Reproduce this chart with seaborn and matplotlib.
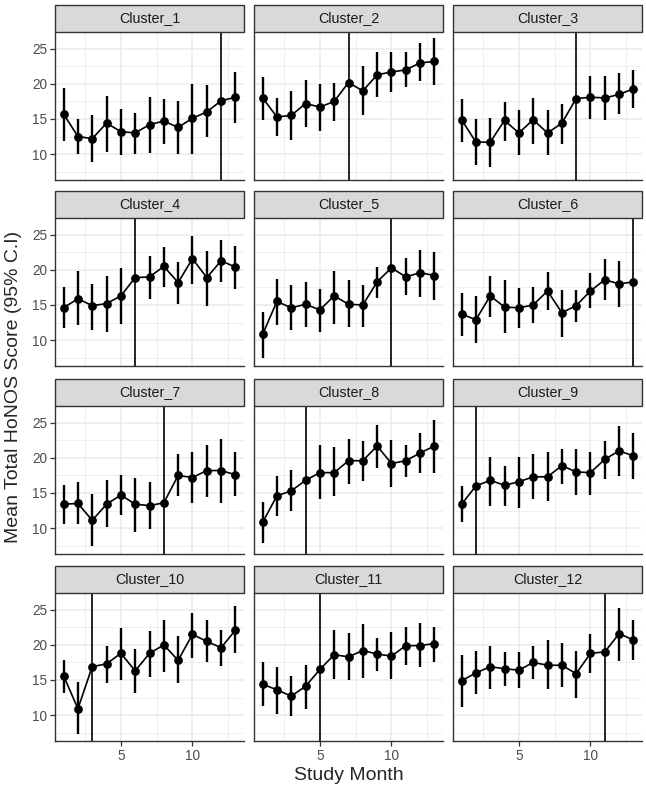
import pandas as pd
import matplotlib
matplotlib.use("Agg")
import matplotlib.pyplot as plt
import seaborn as sns
from matplotlib.patches import Rectangle
from matplotlib.ticker import MultipleLocator

months = list(range(1, 14))
clusters = [f"Cluster_{i}" for i in range(1, 13)]
change_month = [12, 7, 9, 6, 10, 13, 8, 4, 2, 3, 5, 11]

score_mean = [
    [15.7, 12.5, 12.2, 14.4, 13.2, 13.0, 14.2, 14.7, 13.8, 15.1, 16.0, 17.6, 18.1],
    [18.0, 15.3, 15.5, 17.2, 16.7, 17.5, 20.2, 19.0, 21.3, 21.7, 22.0, 23.0, 23.2],
    [14.9, 11.7, 11.7, 14.8, 13.0, 14.9, 13.0, 14.4, 17.9, 18.1, 18.0, 18.5, 19.3],
    [14.6, 15.9, 14.9, 15.2, 16.3, 18.9, 19.0, 20.5, 18.2, 21.6, 18.9, 21.3, 20.4],
    [10.8, 15.5, 14.6, 15.1, 14.3, 16.3, 15.1, 15.0, 18.3, 20.3, 19.0, 19.6, 19.2],
    [13.7, 12.9, 16.3, 14.7, 14.6, 15.0, 17.0, 13.9, 14.9, 17.0, 18.6, 18.0, 18.3],
    [13.4, 13.5, 11.1, 13.4, 14.7, 13.4, 13.2, 13.6, 17.5, 17.2, 18.2, 18.2, 17.6],
    [10.8, 14.6, 15.3, 16.8, 17.9, 17.9, 19.6, 19.6, 21.7, 19.2, 19.6, 20.7, 21.7],
    [13.4, 16.0, 16.8, 16.1, 16.6, 17.3, 17.3, 18.9, 18.0, 17.9, 19.8, 21.0, 20.3],
    [15.6, 10.9, 16.9, 17.3, 18.8, 16.3, 18.8, 20.0, 17.8, 21.5, 20.5, 19.6, 22.1],
    [14.4, 13.6, 12.7, 14.1, 16.5, 18.6, 18.3, 19.2, 18.7, 18.4, 19.9, 19.9, 20.2],
    [14.9, 16.0, 16.9, 16.6, 16.4, 17.5, 17.1, 17.1, 15.9, 18.8, 19.0, 21.6, 20.7],
]
# interval ends; None where the bar sits under the change-month line
score_lo = [
    [11.9, 10.0, 8.9, 10.3, 9.8, 10.0, 10.1, 11.5, 10.0, 10.0, 12.4, None, 14.4],
    [14.9, 12.6, 12.0, 13.9, 13.3, 14.7, None, 15.5, 18.1, 18.8, 19.5, 20.4, 19.9],
    [11.7, 8.5, 8.2, 11.9, 9.8, 11.5, 9.9, 11.4, None, 15.0, 14.9, 15.7, 16.5],
    [11.7, 12.1, 11.5, 11.2, 12.3, None, 15.9, 17.6, 15.2, 18.0, 14.9, 18.3, 17.3],
    [7.5, 12.1, 11.4, 11.9, 11.2, 12.3, 11.8, 11.9, 16.0, None, 16.4, 16.1, 15.7],
    [10.6, 9.6, 13.3, 11.0, 11.7, 12.4, 14.3, 10.5, 12.6, 14.5, 15.7, 14.7, None],
    [10.6, 10.6, 7.4, 10.1, 11.8, 9.5, 9.8, None, 14.6, 13.5, 14.4, 13.5, 14.6],
    [7.9, 11.7, 12.4, None, 14.1, 14.5, 16.3, 16.7, 18.6, 15.8, 17.3, 17.8, 17.9],
    [10.9, None, 13.2, 13.2, 12.8, 14.2, 13.9, 16.3, 14.7, 14.7, 17.0, 17.4, 17.0],
    [13.2, 7.3, None, 14.6, 15.0, 13.1, 15.4, 16.2, 14.5, 18.2, 17.6, 17.0, 18.9],
    [11.3, 10.2, 9.9, 10.9, None, 15.1, 15.0, 15.3, 16.3, 15.1, 17.2, 16.8, 17.5],
    [11.2, 13.0, 13.7, 14.2, 13.8, 15.1, 13.7, 14.0, 12.5, 16.0, None, 17.7, 17.9],
]
score_hi = [
    [19.4, 15.0, 15.5, 18.3, 16.4, 15.9, 18.2, 17.9, 17.5, 20.0, 19.8, None, 21.7],
    [21.0, 18.0, 19.0, 20.5, 20.0, 20.2, None, 22.6, 24.6, 24.5, 24.5, 25.8, 26.5],
    [17.9, 15.0, 15.1, 17.4, 16.3, 18.0, 16.3, 17.1, None, 21.1, 21.1, 21.5, 22.0],
    [17.6, 19.8, 18.0, 19.2, 20.3, None, 22.0, 23.3, 21.1, 24.9, 22.7, 24.2, 23.4],
    [14.0, 18.7, 17.9, 18.3, 17.3, 19.9, 18.5, 17.9, 20.4, None, 21.7, 22.9, 22.6],
    [16.7, 16.3, 19.2, 18.5, 17.4, 17.6, 19.7, 17.2, 17.1, 19.6, 21.6, 21.2, None],
    [16.1, 16.5, 14.9, 16.8, 17.5, 17.1, 16.6, None, 20.5, 20.9, 21.8, 22.7, 20.8],
    [13.7, 17.4, 18.3, None, 21.8, 21.5, 22.7, 22.4, 24.7, 22.6, 21.8, 23.5, 25.4],
    [16.0, None, 20.2, 18.9, 20.1, 20.5, 20.9, 21.3, 21.2, 20.9, 22.4, 24.5, 23.5],
    [17.9, 14.7, None, 19.9, 22.4, 19.4, 22.0, 23.5, 21.2, 24.6, 23.5, 22.1, 25.6],
    [17.5, 16.9, 15.5, 17.1, None, 22.1, 21.7, 23.0, 21.0, 21.8, 22.5, 23.1, 22.6],
    [18.5, 19.1, 19.9, 19.0, 19.0, 19.9, 20.7, 20.3, 19.1, 21.5, None, 25.2, 23.5],
]

rows = []
for i, name in enumerate(clusters):
    for j, m in enumerate(months):
        rows.append({"cluster": name, "month": m, "score": score_mean[i][j],
                     "lo": score_lo[i][j], "hi": score_hi[i][j],
                     "change": change_month[i]})
df = pd.DataFrame(rows)

sns.set_style("white")
plt.rcParams["font.family"] = ["Liberation Sans", "DejaVu Sans"]


def draw(data, **kws):
    ax = plt.gca()
    bars = data.dropna(subset=["lo", "hi"])
    ax.vlines(bars["month"], bars["lo"], bars["hi"], color="black", lw=1.7, zorder=3)
    sns.lineplot(data=data, x="month", y="score", color="black", lw=1.2,
                 marker="o", markersize=6.3, markeredgewidth=0, ax=ax, zorder=4)
    ax.axvline(data["change"].iloc[0], color="black", lw=1.2, zorder=5)


g = sns.FacetGrid(df, col="cluster", col_wrap=3, col_order=clusters,
                  sharex=True, sharey=True, height=2, aspect=1.2)
g.map_dataframe(draw)
fig = g.figure
fig.set_size_inches(6.46, 7.90)

W, H = 646.0, 790.0
col_x = [55, 254, 453]
pw = 189
row_top = [32, 218, 406, 593]
ph = 148
strip_h = 27

for k, ax in enumerate(g.axes.flat):
    r, c = divmod(k, 3)
    ax.set_position([col_x[c] / W, 1 - (row_top[r] + ph) / H, pw / W, ph / H])
    ax.set_xlim(0.4, 13.6)
    ax.set_ylim(6.3, 27.4)
    ax.xaxis.set_minor_locator(MultipleLocator(2.5))
    ax.yaxis.set_minor_locator(MultipleLocator(2.5))
    ax.set_xticks([5, 10])
    ax.set_yticks([10, 15, 20, 25])
    ax.grid(which="major", color="#EBEBEB", lw=1.1, zorder=0)
    ax.grid(which="minor", color="#EBEBEB", lw=0.55, zorder=0)
    ax.set_axisbelow(True)
    for s in ax.spines.values():
        s.set_color("#333333")
        s.set_linewidth(1.0)
    ax.tick_params(which="major", length=3.5, width=0.9, color="#333333",
                   labelsize=9.8, labelcolor="#4D4D4D", pad=2,
                   bottom=(r == 3), left=(c == 0),
                   labelbottom=(r == 3), labelleft=(c == 0))
    ax.tick_params(which="minor", length=0)
    ax.set_title("")
    ax.set_xlabel("")
    ax.set_ylabel("")
    sh = strip_h / ph
    ax.add_patch(Rectangle((0, 1), 1, sh, transform=ax.transAxes,
                           facecolor="#D9D9D9", edgecolor="#333333",
                           lw=1.0, clip_on=False, zorder=10))
    ax.text(0.5, 1 + sh / 2, clusters[k], transform=ax.transAxes,
            ha="center", va="center", fontsize=10.3, color="#1A1A1A", zorder=11)

fig.text(349 / W, 1 - 776 / H, "Study Month", ha="center", va="center", fontsize=14)
fig.text(14 / W, 1 - 387 / H, "Mean Total HoNOS Score (95% C.I)", ha="center",
         va="center", rotation=90, fontsize=14)

fig.savefig("out.png", dpi=100, facecolor="white")
